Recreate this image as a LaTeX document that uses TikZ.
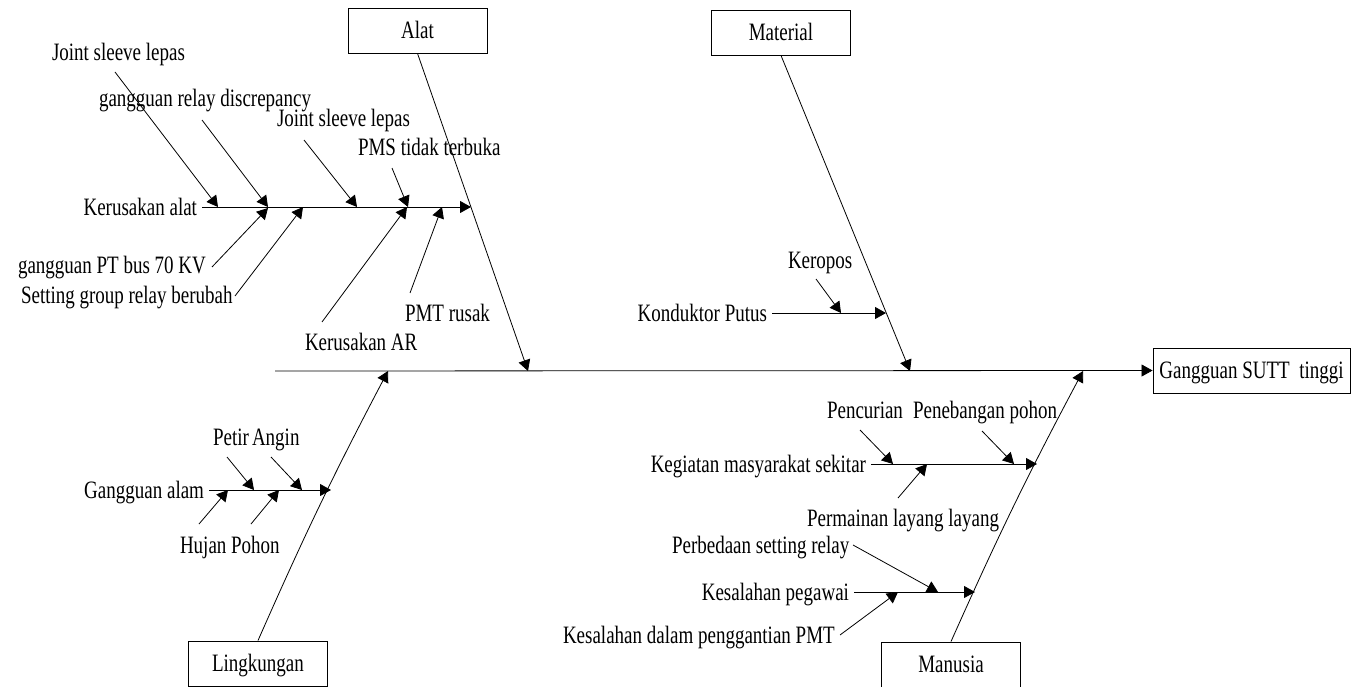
\documentclass[tikz,border=0pt]{standalone}
\usepackage{fontspec}
\setmainfont[FakeStretch=0.76]{Liberation Serif}
\usetikzlibrary{arrows.meta}
\begin{document}
\begin{tikzpicture}[x=1pt,y=-1pt,
  lbl/.style={inner sep=0pt,outer sep=5pt,text height=16.5pt,text depth=0pt,font=\fontsize{25}{29}\selectfont},
  boxn/.style={draw,line width=0.9pt,minimum width=139pt,minimum height=45pt,inner sep=0pt,text height=16.5pt,text depth=0pt,font=\fontsize{25}{29}\selectfont},
  arr/.style={line width=0.8pt,-{Triangle[length=11pt,width=12pt]}}]
\useasboundingbox (0,0) rectangle (1351,687);

% category boxes and effect
\node[boxn] (alat) at (417.5,30.5) {Alat};
\node[boxn] (material) at (781,32.5) {Material};
\node[boxn] (ling) at (258,663.5) {Lingkungan};
\node[boxn] (manusia) at (951,664.5) {Manusia};
\node[boxn,minimum width=197pt] (effect) at (1251.5,370.5) {Gangguan SUTT\ \ tinggi};

% main spine
\coordinate (spineL) at (275,371);
\draw[arr] (spineL) -- (effect.west);

% bones
\coordinate (alatTip) at (528,371);
\coordinate (matTip) at (910,371);
\coordinate (lingTip) at (388,371);
\coordinate (manTip) at (1083,371);
\draw[arr] (alat.south) -- (alatTip);
\draw[arr] (material.south) -- (matTip);
\draw[arr] (ling.north) to[bend left=2] (lingTip);
\draw[arr] (manusia.north) to[bend left=2] (manTip);

% ---------- Alat ----------
\node[lbl,anchor=east] (ka) at (202,207) {Kerusakan alat};
\coordinate (kaTip) at (471,207);
\draw[arr] (ka.east) -- (kaTip);

\node[lbl,anchor=west] (js1) at (47,52) {Joint sleeve lepas};
\coordinate (js1s) at (115,72); \coordinate (js1e) at (218,207);
\draw[arr] (js1s) -- (js1e);

\node[lbl,anchor=west] (grd) at (94,98) {gangguan relay discrepancy};
\coordinate (grds) at (202,120); \coordinate (grde) at (268,207);
\draw[arr] (grds) -- (grde);

\node[lbl,anchor=west] (js2) at (272,118) {Joint sleeve lepas};
\coordinate (js2s) at (304,140); \coordinate (js2e) at (357,207);
\draw[arr] (js2s) -- (js2e);

\node[lbl,anchor=west] (pms) at (353,147) {PMS tidak terbuka};
\coordinate (pmss) at (392,168); \coordinate (pmse) at (408,207);
\draw[arr] (pmss) -- (pmse);

\node[lbl,anchor=west] (gpt) at (13,265) {gangguan PT bus 70 KV};
\coordinate (gpts) at (212,267); \coordinate (gpte) at (268,208);
\draw[arr] (gpts) -- (gpte);

\node[lbl,anchor=west] (sgr) at (16,295) {Setting group relay berubah};
\coordinate (sgrs) at (235,296); \coordinate (sgre) at (303,207);
\draw[arr] (sgrs) -- (sgre);

\node[lbl,anchor=west] (kar) at (300,342) {Kerusakan AR};
\coordinate (kars) at (322,322); \coordinate (kare) at (407,207);
\draw[arr] (kars) -- (kare);

\node[lbl,anchor=west] (pmt) at (400,313) {PMT rusak};
\coordinate (pmts) at (410,293); \coordinate (pmte) at (442,207);
\draw[arr] (pmts) -- (pmte);

% ---------- Lingkungan ----------
\node[lbl,anchor=east] (ga) at (209,490) {Gangguan alam};
\coordinate (gaTip) at (331,490);
\draw[arr] (ga.east) -- (gaTip);

\node[lbl,anchor=west] (petir) at (208,437) {Petir};
\node[lbl,anchor=west] (angin) at (247,437) {Angin};
\node[lbl,anchor=west] (hujan) at (175,545) {Hujan};
\node[lbl,anchor=west] (pohon) at (226,545) {Pohon};
\coordinate (pts) at (227,457); \coordinate (pte) at (254,490);
\coordinate (ans) at (271,457); \coordinate (ane) at (302,490);
\coordinate (hjs) at (199,524); \coordinate (hje) at (228,490);
\coordinate (phs) at (251,524); \coordinate (phe) at (279,490);
\draw[arr] (pts) -- (pte);
\draw[arr] (ans) -- (ane);
\draw[arr] (hjs) -- (hje);
\draw[arr] (phs) -- (phe);

% ---------- Material ----------
\node[lbl,anchor=east] (kp) at (772,313) {Konduktor Putus};
\coordinate (kpTip) at (886,313);
\draw[arr] (kp.east) -- (kpTip);
\node[lbl,anchor=west] (kero) at (783,260) {Keropos};
\coordinate (kros) at (816,279); \coordinate (kroe) at (841,313);
\draw[arr] (kros) -- (kroe);

% ---------- Manusia ----------
\node[lbl,anchor=east] (kms) at (871,464) {Kegiatan masyarakat sekitar};
\coordinate (kmsTip) at (1037,464);
\draw[arr] (kms.east) -- (kmsTip);
\node[lbl,anchor=west] (pcr) at (822,410) {Pencurian};
\node[lbl,anchor=west] (pnb) at (908,410) {Penebangan pohon};
\node[lbl,anchor=west] (pml) at (802,518) {Permainan layang layang};
\coordinate (pcrs) at (860,430); \coordinate (pcre) at (893,464);
\coordinate (pnbs) at (982,431); \coordinate (pnbe) at (1014,464);
\coordinate (pmls) at (898,498); \coordinate (pmle) at (927,464);
\draw[arr] (pcrs) -- (pcre);
\draw[arr] (pnbs) -- (pnbe);
\draw[arr] (pmls) -- (pmle);

\node[lbl,anchor=east] (kpg) at (854,592) {Kesalahan pegawai};
\coordinate (kpgTip) at (975,592);
\draw[arr] (kpg.east) -- (kpgTip);
\node[lbl,anchor=west] (pbd) at (667,545) {Perbedaan setting relay};
\node[lbl,anchor=west] (kdp) at (558,635) {Kesalahan dalam penggantian PMT};
\coordinate (pbds) at (853,545); \coordinate (pbde) at (938,592);
\coordinate (kdps) at (840,635); \coordinate (kdpe) at (898,592);
\draw[arr] (pbds) -- (pbde);
\draw[arr] (kdps) -- (kdpe);
\end{tikzpicture}
\end{document}
